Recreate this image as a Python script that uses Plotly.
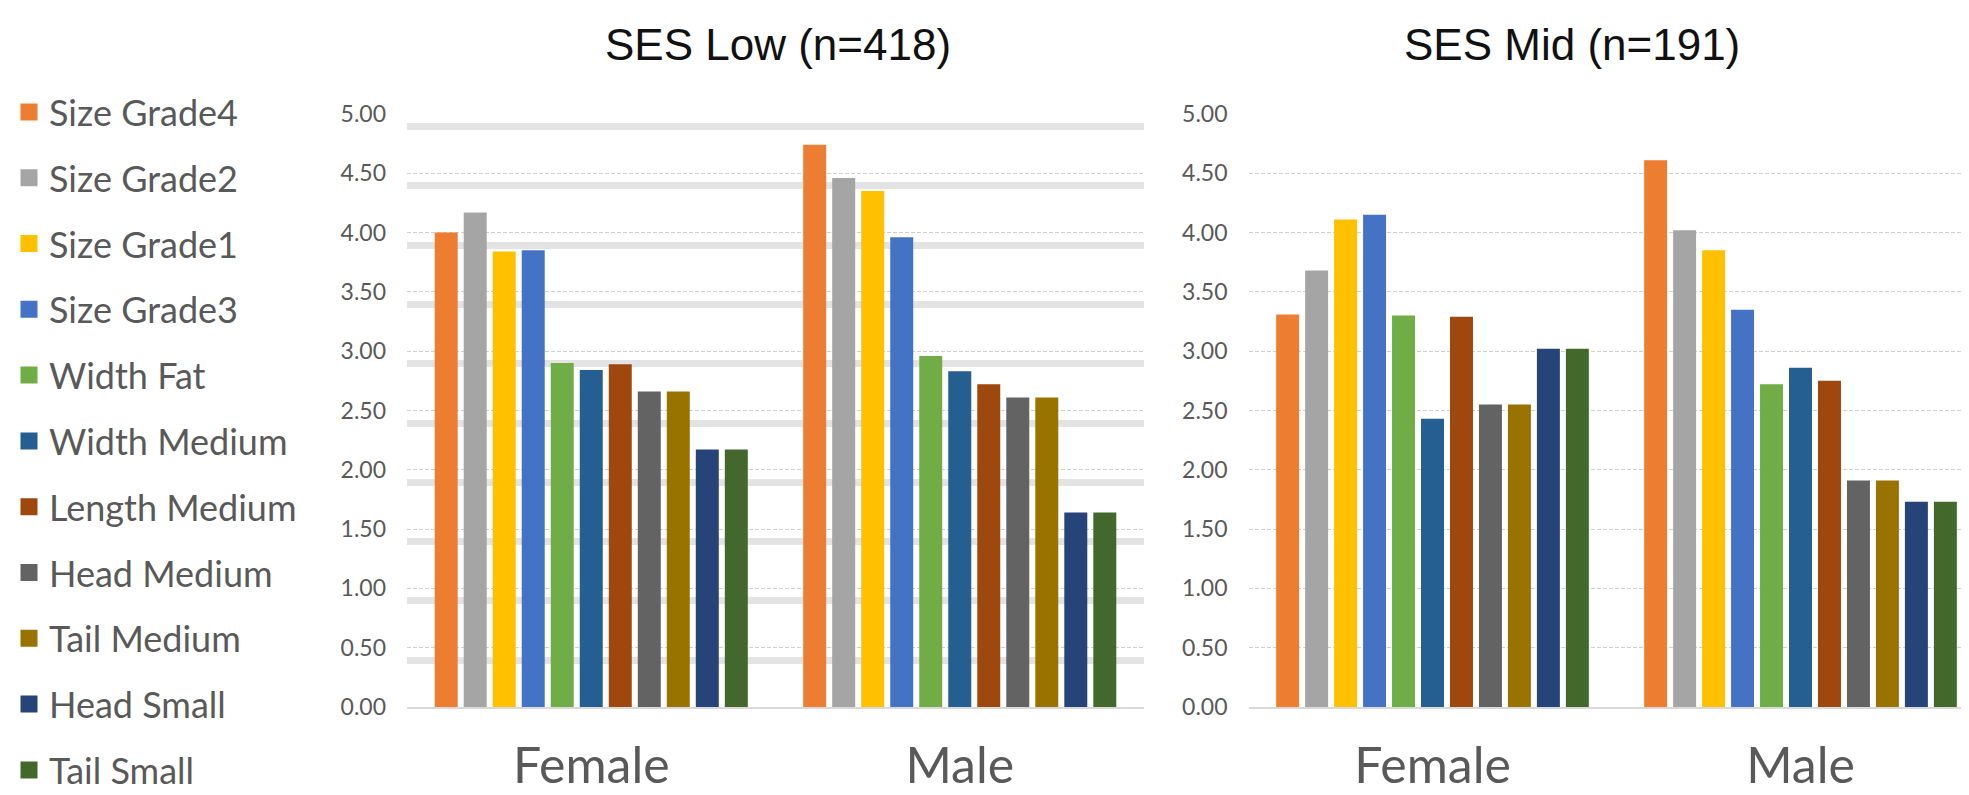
import plotly.graph_objects as go

categories = ["Female", "Male"]
series_names = ["Size Grade4", "Size Grade2", "Size Grade1", "Size Grade3", "Width Fat",
                "Width Medium", "Length Medium", "Head Medium", "Tail Medium",
                "Head Small", "Tail Small"]
series_colors = ["#ED7D31", "#A5A5A5", "#FFC000", "#4472C4", "#70AD47",
                 "#255E91", "#9E480E", "#636363", "#997300", "#264478", "#43682B"]

# SES Low (n=418): [Female, Male]
low_values = [
    [3.98, 4.72], [4.15, 4.44], [3.82, 4.33], [3.83, 3.94], [2.88, 2.94],
    [2.82, 2.81], [2.87, 2.70], [2.64, 2.59], [2.64, 2.59], [2.15, 1.62], [2.15, 1.62],
]
# SES Mid (n=191): [Female, Male]
mid_values = [
    [3.29, 4.59], [3.66, 4.00], [4.09, 3.83], [4.13, 3.33], [3.28, 2.70],
    [2.41, 2.84], [3.27, 2.73], [2.53, 1.89], [2.53, 1.89], [3.00, 1.71], [3.00, 1.71],
]

titles = ["SES Low (n=418)", "SES Mid (n=191)"]
y_ticks = [0, 0.5, 1.0, 1.5, 2.0, 2.5, 3.0, 3.5, 4.0, 4.5, 5.0]
y_tick_text = ["0.00", "0.50", "1.00", "1.50", "2.00", "2.50", "3.00", "3.50", "4.00", "4.50", "5.00"]
band_vals = [v - 0.105 for v in y_ticks[1:]]

W, H = 1969, 795
LABEL = "#595959"
FONT = "Lato, 'Open Sans', sans-serif"
TITLE_FONT = "'Liberation Sans', Arial, sans-serif"

fig = go.Figure()
for i, name in enumerate(series_names):
    fig.add_trace(go.Bar(
        x=categories, y=low_values[i], name=name,
        marker=dict(color=series_colors[i], line=dict(color=series_colors[i], width=5)),
        legendgroup=name, showlegend=True, xaxis="x", yaxis="y",
    ))
for i, name in enumerate(series_names):
    fig.add_trace(go.Bar(
        x=categories, y=mid_values[i], name=name,
        marker=dict(color=series_colors[i], line=dict(color=series_colors[i], width=5)),
        legendgroup=name, showlegend=False, xaxis="x2", yaxis="y2",
    ))

y_dom = [(H - 699) / H, (H - 106) / H]

common_y = dict(
    range=[0, 5.001], tickvals=y_ticks, ticktext=y_tick_text,
    tickfont=dict(family=FONT, size=23, color=LABEL),
    showgrid=True, gridcolor="#cfcfcf", gridwidth=1, griddash="4px,2px",
    zeroline=False, showline=False, ticks="", ticklabelstandoff=20,
    domain=y_dom, automargin=False,
)
common_x = dict(
    type="category", tickfont=dict(family=FONT, size=50, color=LABEL),
    showgrid=False, showline=True, linecolor="#d9d9d9", linewidth=2,
    ticks="", ticklabelstandoff=14, automargin=False,
)

fig.update_layout(
    width=W, height=H,
    margin=dict(l=0, r=0, t=0, b=0, autoexpand=False),
    paper_bgcolor="white", plot_bgcolor="white",
    barmode="group", bargap=0.134, bargroupgap=0.38,
    xaxis=dict(domain=[399 / W, 1136 / W], range=[-0.5, 1.5], anchor="y", **common_x),
    yaxis=dict(anchor="x",
               minor=dict(tickmode="array", tickvals=band_vals, showgrid=True,
                          gridcolor="#e3e3e3", gridwidth=7, griddash="solid", ticks=""),
               **common_y),
    xaxis2=dict(domain=[1240.5 / W, 1.0], range=[-0.5, 1.4796], anchor="y2", **common_x),
    yaxis2=dict(anchor="x2", **common_y),
    legend=dict(
        x=1 / W, xanchor="left", y=1 - 74 / H, yanchor="top",
        font=dict(family=FONT, size=36, color=LABEL),
        tracegroupgap=16, itemclick=False, itemdoubleclick=False,
        bgcolor="rgba(0,0,0,0)",
    ),
    showlegend=True,
    annotations=[
        dict(text=titles[0], x=770 / W, y=1 - 37 / H, xref="paper", yref="paper",
             xanchor="center", yanchor="middle", showarrow=False,
             font=dict(family=TITLE_FONT, size=44, color="#111111")),
        dict(text=titles[1], x=1564 / W, y=1 - 37 / H, xref="paper", yref="paper",
             xanchor="center", yanchor="middle", showarrow=False,
             font=dict(family=TITLE_FONT, size=44, color="#111111")),
    ],
)

fig.write_html("out.html")
